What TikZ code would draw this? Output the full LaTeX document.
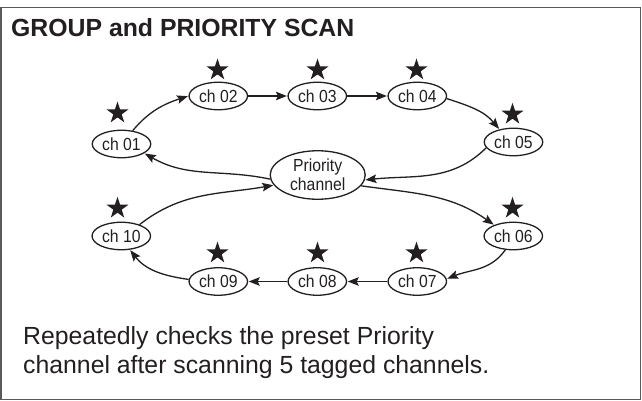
\documentclass[tikz,border=0pt]{standalone}
\usepackage{fontspec}
\setmainfont{Liberation Sans}
\newfontfamily\nodefont[FakeStretch=0.9]{Liberation Sans}
\usetikzlibrary{shapes.geometric,arrows.meta}
\definecolor{ink}{RGB}{35,31,32}
\definecolor{framecol}{RGB}{90,90,90}
\tikzset{
  chnode/.style={draw=ink, ellipse, line width=1.3pt, minimum width=58.5pt, minimum height=27.5pt, inner sep=0pt, text=ink, font=\nodefont\fontsize{17.5}{18.8}\selectfont},
  prionode/.style={chnode, minimum width=95pt, minimum height=48.5pt, align=center},
  tagstar/.style={star, star points=5, star point ratio=2.618, fill=ink, draw=none, minimum size=23pt, inner sep=0pt},
  flow/.style={draw=ink, line width=1.3pt, -{Stealth[length=11pt,width=8.5pt,inset=2pt]}, shorten >=0.5pt},
  desc/.style={anchor=base west, inner sep=0pt, text=ink, font=\fontsize{24.8}{29}\selectfont}
}
\begin{document}
\begin{tikzpicture}[x=1pt,y=-1pt]
\useasboundingbox (0,0) rectangle (642,401);
\draw[framecol, line width=1.5pt] (1,7.3) rectangle (640.5,399.3);
\node[anchor=base west, inner sep=0pt, text=ink, font=\bfseries\fontsize{24.8}{28}\selectfont] (title) at (11,36.7) {GROUP and PRIORITY SCAN};

\node[chnode] (ch01) at (121.5,144) {ch 01};
\node[chnode] (ch02) at (218.3,96) {ch 02};
\node[chnode] (ch03) at (317.3,96) {ch 03};
\node[chnode] (ch04) at (417.3,96) {ch 04};
\node[chnode] (ch05) at (513.5,142) {ch 05};
\node[chnode] (ch06) at (513.3,236) {ch 06};
\node[chnode] (ch07) at (417.3,281.5) {ch 07};
\node[chnode] (ch08) at (317.3,281.5) {ch 08};
\node[chnode] (ch09) at (218.3,281.5) {ch 09};
\node[chnode] (ch10) at (121.3,236) {ch 10};
\node[prionode] (prio) at (317.7,175) {Priority\\channel};

\node[tagstar] (s01) at (117.5,113) {};
\node[tagstar] (s02) at (217.5,70) {};
\node[tagstar] (s03) at (317.5,70) {};
\node[tagstar] (s04) at (416.5,70) {};
\node[tagstar] (s05) at (512.5,114.3) {};
\node[tagstar] (s06) at (512.5,208.3) {};
\node[tagstar] (s07) at (416.5,253) {};
\node[tagstar] (s08) at (317.5,253) {};
\node[tagstar] (s09) at (217.5,253) {};
\node[tagstar] (s10) at (117.5,208.3) {};

\draw[flow] (ch01.50) to[out=50,in=198] (ch02.west);
\draw[flow] (ch02.east) -- (ch03.west);
\draw[flow] (ch03.east) -- (ch04.west);
\draw[flow] (ch04.-5) to[out=-18,in=130] (ch05.138);
\draw[flow] (ch05.192) to[out=225,in=6] (prio.-6);
\draw[flow] (prio.-14) to[out=-8,in=145] (ch06.150);
\draw[flow] (ch06.-120) to[out=235,in=22] (ch07.5);
\draw[flow] (ch07.west) -- (ch08.east);
\draw[flow] (ch08.west) -- (ch09.east);
\draw[flow] (ch09.176) to[out=172,in=-52] (ch10.-58);
\draw[flow] (ch10.32) to[out=38,in=190] (prio.193);
\draw[flow] (prio.185) to[out=168,in=-30] (ch01.-22);

\node[desc] (desc1) at (23,344.3) {Repeatedly checks the preset Priority};
\node[desc] (desc2) at (23,373.3) {channel after scanning 5 tagged channels.};
\end{tikzpicture}
\end{document}
